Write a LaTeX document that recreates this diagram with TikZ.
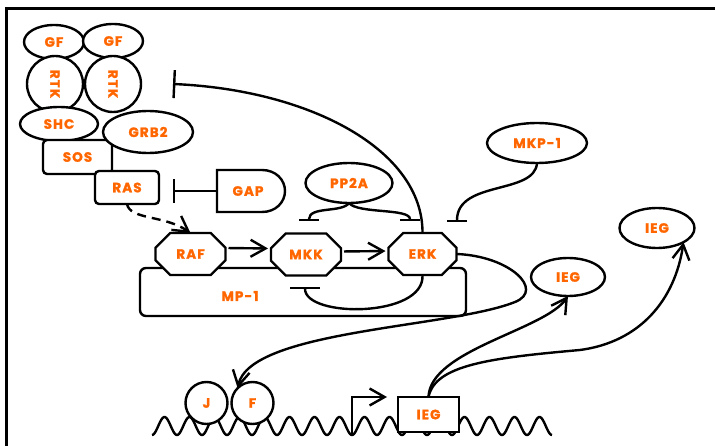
\documentclass[tikz,border=0pt]{standalone}
\usepackage{fontspec}
\setmainfont{Poppins}[FakeBold=1.5,LetterSpace=8]
\usepackage{graphicx}
\usetikzlibrary{shapes.geometric,shapes.misc,arrows.meta}
\definecolor{lbl}{RGB}{255,102,0}
\begin{document}
\begin{tikzpicture}[x=1pt,y=-1pt,
  line width=2.4pt,
  every node/.style={font=\bfseries\fontsize{13.5}{15}\selectfont, text=lbl, line width=2.4pt, inner sep=0pt, outer sep=0pt},
  ell/.style={draw, ellipse, fill=white},
  circ/.style={draw, circle, fill=white},
  rbox/.style={draw, rectangle, rounded corners=4pt, fill=white},
  oct/.style={draw, chamfered rectangle, chamfered rectangle xsep=10pt, chamfered rectangle ysep=10pt, fill=white, minimum width=70pt, minimum height=42pt},
  act/.style={-{Straight Barb[length=15pt,width=17pt]}},
  inh/.style={-{Bar[width=#1]}},
]
\useasboundingbox (0,0) rectangle (715,446);
% frame
\draw[line width=2.8pt] (6.5,446) -- (6.5,8.5) -- (715,8.5);

% receptor complex
\node[ell, minimum width=60pt, minimum height=34pt] (gf1) at (54,42) {GF};
\node[ell, minimum width=60pt, minimum height=34pt] (gf2) at (113,41) {GF};
\node[circ, minimum size=56pt] (rtk1) at (55,84) {\rotatebox{-90}{RTK}};
\node[circ, minimum size=56pt] (rtk2) at (113,84) {\rotatebox{-90}{RTK}};
\node[ell, minimum width=78pt, minimum height=34pt] (shc) at (59,124) {SHC};
\node[rbox, minimum width=69pt, minimum height=34pt] (sos) at (77.5,157) {SOS};
\node[ell, minimum width=90pt, minimum height=42pt] (grb2) at (148,132) {GRB2};
\node[rbox, minimum width=64pt, minimum height=33pt] (ras) at (127,187.5) {RAS};

% GAP
\draw[fill=white] (217,170) -- (262,170) .. controls (276,170) and (285,180) .. (285,191) .. controls (285,202) and (276,212) .. (262,212) -- (217,212) -- cycle;
\node[minimum width=62pt, minimum height=42pt] (gap) at (248,191) {GAP};

% other regulators
\node[ell, minimum width=87pt, minimum height=40pt] (pp2a) at (349,183) {PP2A};
\node[ell, minimum width=100pt, minimum height=40pt] (mkp) at (537,143) {MKP-1};

% scaffold and kinases
\node[rbox, rounded corners=6pt, minimum width=326pt, minimum height=48pt] (mp1) at (303,292) {};
\node (mp1t) at (240,296) {MP-1};
\node[oct] (raf) at (190.5,254) {RAF};
\node[oct] (mkk) at (306,254.5) {MKK};
\node[oct, minimum width=68pt] (erk) at (422.5,254) {ERK};

% IEG products
\node[ell, minimum width=74pt, minimum height=38pt] (ieg1) at (568,277) {IEG};
\node[ell, minimum width=75pt, minimum height=40pt] (ieg2) at (657,228) {IEG};

% DNA
\draw plot[domain=152:552, samples=401] (\x, {426+9*cos(14.4*(\x-152))});
\node[circ, minimum size=42pt] (j) at (206.5,403) {J};
\node[circ, minimum size=42pt] (f) at (252.5,403) {F};
\node[draw, fill=white, minimum width=61pt, minimum height=35pt] (iegb) at (428.5,414.5) {IEG};
\coordinate (tss) at (352,435);
\coordinate (tssend) at (387,397);
\draw[act] (tss) |- (tssend);

% connectors
\coordinate (rtkbar) at (173,84);
\draw[inh=28pt] (erk.north) .. controls (423,150) and (310,90) .. (rtkbar);
\coordinate (rasbar) at (173,191);
\draw[inh=24pt] (gap.west) -- (rasbar);
\draw[act, dash pattern=on 9pt off 6pt] (ras.south) .. controls (130,220) and (165,215) .. (raf.north);
\draw[act, shorten <=3pt, shorten >=3pt] ([yshift=6pt]raf.east) -- ([yshift=6pt]mkk.west);
\draw[act, shorten <=3pt, shorten >=3pt] ([yshift=3pt]mkk.east) -- ([yshift=3pt]erk.west);
\coordinate (mkkbar) at (309,221);
\draw[inh=20pt] (pp2a.south) .. controls (342,213) and (309,206) .. (mkkbar);
\coordinate (erkbar) at (410,221);
\draw[inh=20pt] (pp2a.south) .. controls (358,214) and (410,208) .. (erkbar);
\coordinate (erkbar2) at (457,222);
\draw[inh=20pt] (mkp.south) .. controls (535,195) and (457,180) .. (erkbar2);
\coordinate (mpbar) at (305,287);
\draw[inh=30pt] (erk.south) .. controls (425,318) and (305,318) .. (mpbar);
\draw[act] (erk.east) .. controls (510,256) and (545,290) .. (515,302) .. controls (450,328) and (250,330) .. (f.north west);
\draw[act] (iegb.north) .. controls (430,350) and (545,330) .. (ieg1.south);
\draw[act] (iegb.north) .. controls (435,365) and (490,358) .. (580,350) .. controls (640,342) and (675,300) .. (ieg2.south east);
\end{tikzpicture}
\end{document}
